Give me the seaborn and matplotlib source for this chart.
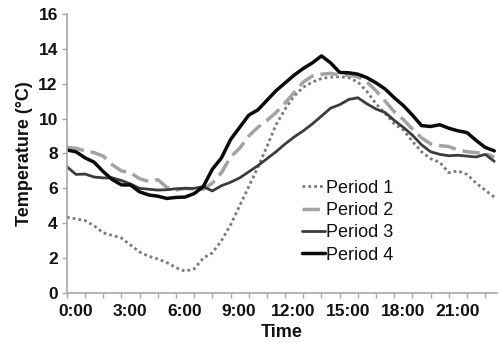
import numpy as np
import pandas as pd
import matplotlib
matplotlib.use("Agg")
import matplotlib.pyplot as plt
import seaborn as sns

hours = [i * 0.5 for i in range(48)]

period1 = [4.34, 4.25, 4.15, 3.85, 3.45, 3.3, 3.15, 2.75, 2.35, 2.1, 1.95, 1.74,
           1.45, 1.25, 1.38, 2.0, 2.3, 3.0, 3.9, 5.0, 6.1, 7.2, 8.4, 9.65,
           10.55, 11.3, 11.8, 12.1, 12.3, 12.38, 12.4, 12.35, 12.1, 11.55, 10.85, 10.3,
           9.7, 9.35, 8.7, 8.1, 7.7, 7.5, 6.9, 7.0, 6.8, 6.3, 5.9, 5.5]
period2 = [8.35, 8.3, 8.15, 8.05, 7.85, 7.35, 7.0, 6.9, 6.55, 6.4, 6.5, 6.05,
           5.9, 6.0, 5.95, 5.95, 6.3, 6.9, 7.8, 8.3, 9.0, 9.5, 9.9, 10.35,
           10.9, 11.5, 12.1, 12.45, 12.55, 12.6, 12.5, 12.5, 12.4, 12.1, 11.6, 11.0,
           10.4, 9.95, 9.4, 8.9, 8.55, 8.45, 8.4, 8.2, 8.1, 8.05, 8.0, 7.8]
period3 = [7.24, 6.8, 6.82, 6.65, 6.6, 6.6, 6.45, 6.25, 6.0, 5.95, 5.9, 5.92,
           5.98, 6.0, 6.0, 6.1, 5.85, 6.15, 6.35, 6.6, 6.95, 7.3, 7.7, 8.1,
           8.55, 8.95, 9.3, 9.7, 10.15, 10.6, 10.8, 11.1, 11.2, 10.85, 10.55, 10.35,
           9.9, 9.5, 9.05, 8.5, 8.1, 7.95, 7.87, 7.9, 7.85, 7.8, 7.95, 7.55]
period4 = [8.2, 8.1, 7.75, 7.5, 6.96, 6.5, 6.2, 6.19, 5.8, 5.62, 5.55, 5.42,
           5.48, 5.5, 5.7, 6.1, 7.1, 7.75, 8.8, 9.5, 10.2, 10.5, 11.05, 11.6,
           12.05, 12.5, 12.88, 13.2, 13.6, 13.2, 12.65, 12.63, 12.55, 12.35, 12.05, 11.7,
           11.2, 10.75, 10.2, 9.6, 9.55, 9.65, 9.45, 9.3, 9.2, 8.75, 8.35, 8.15]

series_names = ["Period 1", "Period 2", "Period 3", "Period 4"]
tick_labels = ["0:00", "3:00", "6:00", "9:00", "12:00", "15:00", "18:00", "21:00"]

sns.set_theme(style="white")
plt.rcParams['font.family'] = ['Liberation Sans', 'DejaVu Sans']

fig = plt.figure(figsize=(4.99, 3.43), dpi=100)
ax = fig.add_axes([0.134, 0.146, 0.862, 0.813])

styles = [
    dict(color="#7a7a7a", lw=2.0, ls=(0, (1, 1.1))),
    dict(color="#a3a3a3", lw=2.5, ls=(0, (5, 2))),
    dict(color="#3c3c3c", lw=2.0, ls="-"),
    dict(color="#0a0a0a", lw=2.5, ls="-"),
]
for name, vals, st in zip(series_names, [period1, period2, period3, period4], styles):
    df = pd.DataFrame({"Time": hours, "Temp": vals})
    sns.lineplot(data=df, x="Time", y="Temp", ax=ax, color=st["color"],
                 linewidth=st["lw"], linestyle=st["ls"], label=name)

ax.set_xlim(0, 23.65)
ax.set_ylim(0, 16)
ax.set_yticks(np.arange(0, 17, 2))
ax.set_yticklabels([str(v) for v in range(0, 17, 2)])
ax.set_xticks([3 * i + 0.46 for i in range(len(tick_labels))])
ax.set_xticklabels(tick_labels)
ax.set_xticks(list(range(0, 24)), minor=True)

for s in ["top", "right"]:
    ax.spines[s].set_visible(False)
for s in ["left", "bottom"]:
    ax.spines[s].set_color("#a8a8a8")
    ax.spines[s].set_linewidth(1.2)

ax.tick_params(axis="x", which="major", length=0, pad=8, labelsize=12.5)
ax.tick_params(axis="x", which="minor", length=3.5, width=1, color="#a8a8a8", direction="out", bottom=True)
ax.tick_params(axis="y", which="major", length=3.5, width=1, color="#a8a8a8", direction="out", left=True, pad=3, labelsize=12.5)
for lab in ax.get_xticklabels() + ax.get_yticklabels():
    lab.set_fontweight("bold")
    lab.set_color("#111111")

ax.set_xlabel("Time", fontsize=13, fontweight="bold", labelpad=3.5, color="#111111")
ax.set_ylabel("Temperature (°C)", fontsize=13, fontweight="bold", labelpad=4, color="#111111")

leg = ax.legend(loc="upper left", bbox_to_anchor=(0.518, 0.452), frameon=False,
                fontsize=13, handlelength=1.25, handletextpad=0.05, labelspacing=0.3,
                borderpad=0.2)
for t in leg.get_texts():
    t.set_color("#111111")

fig.savefig("out.png", dpi=100)
